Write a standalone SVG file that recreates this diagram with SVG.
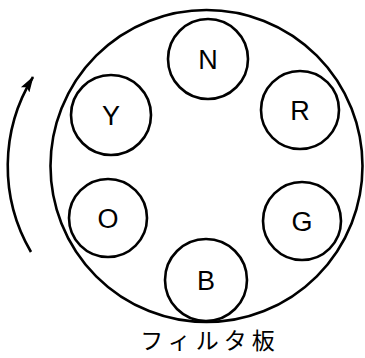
<svg xmlns="http://www.w3.org/2000/svg" width="365" height="358" viewBox="0 0 365 358">
<style>
.c{fill:none;stroke:#000;stroke-width:2.6}
.t{font-family:"Liberation Sans",Arial,sans-serif;font-size:27px;text-anchor:middle;fill:#000}
.j{font-family:"Noto Sans CJK JP",sans-serif;font-size:23px;letter-spacing:5px;text-anchor:middle;fill:#000}
</style>
<defs>
<marker id="ah" markerWidth="16" markerHeight="12" refX="15" refY="6" orient="auto" markerUnits="userSpaceOnUse" viewBox="0 0 16 12">
<path d="M0,1 L16,6 L0,11 L3,6 Z" fill="#000"/>
</marker>
</defs>
<g id="plate"><circle class="c" cx="206.5" cy="166" r="156"/></g>
<g id="N"><circle class="c" cx="208" cy="59" r="40"/><text class="t" x="208" y="69">N</text></g>
<g id="R"><circle class="c" cx="300" cy="110" r="39"/><text class="t" x="300" y="120">R</text></g>
<g id="G"><circle class="c" cx="302" cy="221" r="39"/><text class="t" x="302" y="231">G</text></g>
<g id="B"><circle class="c" cx="206" cy="280" r="41"/><text class="t" x="206" y="290">B</text></g>
<g id="O"><circle class="c" cx="108" cy="218" r="39"/><text class="t" x="108" y="228">O</text></g>
<g id="Y"><circle class="c" cx="111" cy="115" r="40"/><text class="t" x="111" y="125">Y</text></g>
<g id="connectors"><path class="c" d="M31,252 A170,170 0 0 1 33,77" marker-end="url(#ah)"/></g>
<text class="j" x="210" y="349">フィルタ板</text>
</svg>
